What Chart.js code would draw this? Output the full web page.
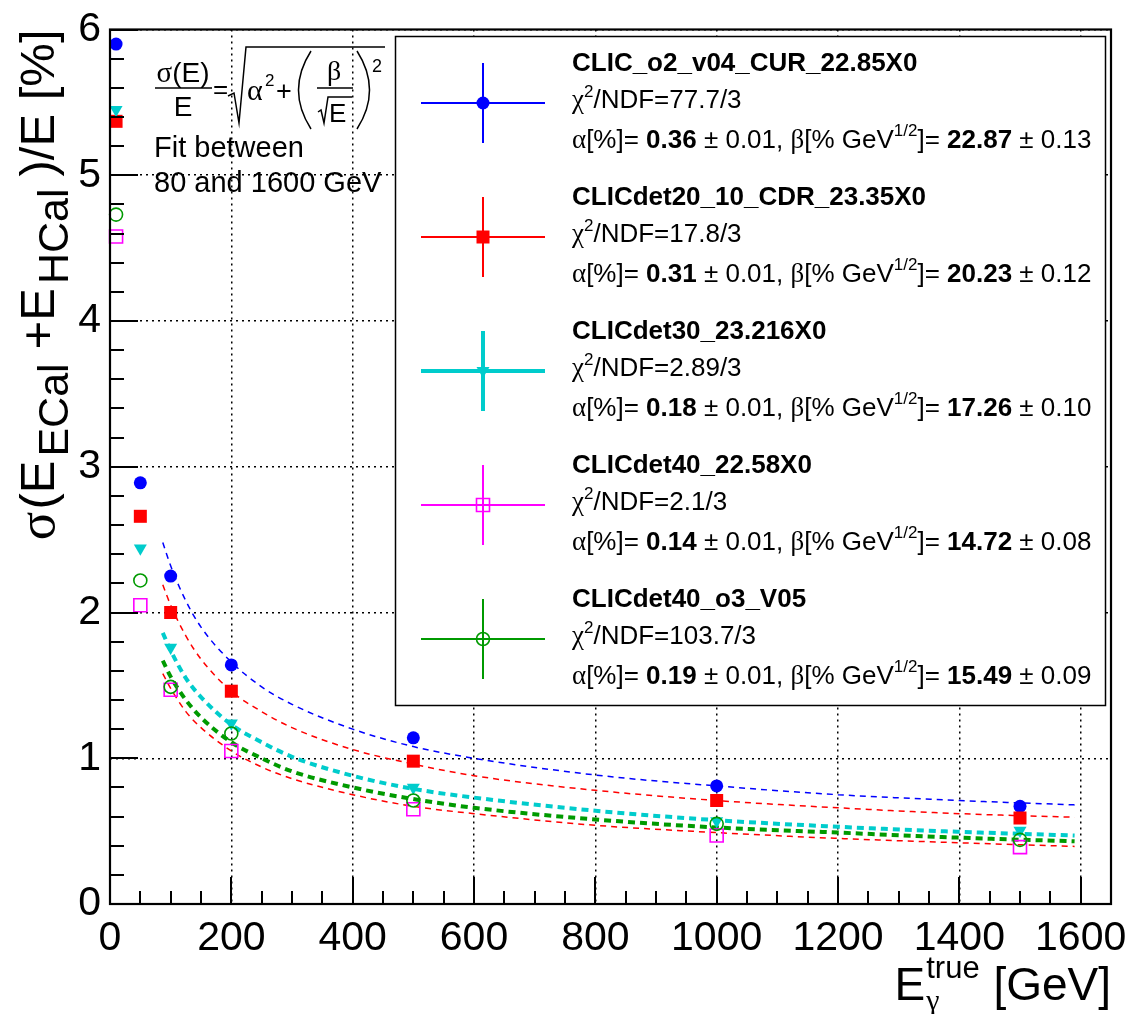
<!DOCTYPE html>
<html>
<head>
<meta charset="utf-8">
<script src="https://cdn.jsdelivr.net/npm/chart.js@4.4.1/dist/chart.umd.min.js"></script>
<style>
  html, body { margin: 0; padding: 0; background: #fff; }
  canvas { display: block; }
</style>
</head>
<body>
<canvas id="resoChart" width="1141" height="1014"></canvas>
<script>
// photon energies (GeV)
const energies = [10, 50, 100, 200, 500, 1000, 1500];

// sigma(E_ECal+E_HCal)/E in %, one array per detector model
const resoCUR = [5.90, 2.89, 2.25, 1.64, 1.14, 0.81, 0.67];
const resoCDR = [5.37, 2.66, 2.00, 1.46, 0.98, 0.71, 0.59];
const resoDet30 = [5.45, 2.44, 1.76, 1.24, 0.80, 0.57, 0.505];
const resoDet40 = [4.58, 2.05, 1.47, 1.05, 0.65, 0.47, 0.39];
const resoDet40o3 = [4.73, 2.22, 1.49, 1.17, 0.71, 0.55, 0.44];

// fitted curves (fit between 80 and 1600 GeV)
const fitEnergies = [87, 100, 125, 150, 200, 250, 300, 400, 500, 600, 800, 1000, 1200, 1400, 1590];
const fitCUR = [2.48, 2.32, 2.08, 1.90, 1.66, 1.49, 1.37, 1.20, 1.08, 1.00, 0.885, 0.81, 0.75, 0.71, 0.68];
const fitCDR = [2.19, 2.05, 1.84, 1.68, 1.46, 1.32, 1.21, 1.06, 0.96, 0.88, 0.78, 0.71, 0.66, 0.62, 0.595];
const fitDet30 = [1.86, 1.74, 1.55, 1.42, 1.23, 1.11, 1.01, 0.88, 0.79, 0.73, 0.64, 0.575, 0.53, 0.495, 0.47];
const fitDet40 = [1.58, 1.48, 1.32, 1.21, 1.05, 0.94, 0.86, 0.75, 0.67, 0.62, 0.54, 0.49, 0.45, 0.42, 0.395];
const fitDet40o3 = [1.67, 1.56, 1.40, 1.28, 1.11, 1.00, 0.91, 0.80, 0.72, 0.66, 0.58, 0.525, 0.49, 0.455, 0.43];

// axis ticks
const xTicks = [0, 200, 400, 600, 800, 1000, 1200, 1400, 1600];
const yTicks = [0, 1, 2, 3, 4, 5, 6];

// legend texts
const legendNames = ["CLIC_o2_v04_CUR_22.85X0", "CLICdet20_10_CDR_23.35X0", "CLICdet30_23.216X0", "CLICdet40_22.58X0", "CLICdet40_o3_V05"];
const legendChi2 = ["77.7/3", "17.8/3", "2.89/3", "2.1/3", "103.7/3"];
const legendAlpha = ["0.36", "0.31", "0.18", "0.14", "0.19"];
const legendAlphaErr = ["0.01", "0.01", "0.01", "0.01", "0.01"];
const legendBeta = ["22.87", "20.23", "17.26", "14.72", "15.49"];
const legendBetaErr = ["0.13", "0.12", "0.10", "0.08", "0.09"];

// styles
const SANS = "'Liberation Sans', Arial, Helvetica, sans-serif";
const SERIF = "'Liberation Serif', 'Times New Roman', serif";
const BLUE = "#0000ff", RED = "#ff0000", CYAN = "#00cccc", MAGENTA = "#ff00ff", GREEN = "#009a00";

// marker style of each graph (same order as legend)
const markers = [
    { shape: "circle", color: BLUE, fill: true, lw: 2 },
    { shape: "square", color: RED, fill: true, lw: 2 },
    { shape: "triangle", color: CYAN, fill: true, lw: 4 },
    { shape: "square", color: MAGENTA, fill: false, lw: 2 },
    { shape: "circle", color: GREEN, fill: false, lw: 2 }
];

function pts(xs, ys) {
    return xs.map((x, i) => ({ x: x, y: ys[i] }));
}

function pointSet(data, m, order) {
    const base = {
        data: pts(energies, data),
        showLine: false,
        clip: false,
        order: order,
        borderColor: m.color,
        backgroundColor: m.fill ? m.color : "rgba(0,0,0,0)",
        borderWidth: m.fill ? 0 : 1.6
    };
    if (m.shape === "circle") { base.pointStyle = "circle"; base.pointRadius = 6.5; }
    if (m.shape === "square") { base.pointStyle = "rect"; base.pointRadius = 9.2; }
    if (m.shape === "triangle") { base.pointStyle = "triangle"; base.pointRadius = 7.5; base.pointRotation = 180; }
    return base;
}

function fitSet(data, color, width, dash) {
    return {
        data: pts(fitEnergies, data),
        showLine: true,
        pointRadius: 0,
        borderColor: color,
        borderWidth: width,
        borderDash: dash,
        cubicInterpolationMode: "monotone",
        order: 10
    };
}

// draw a list of text pieces one after another
function drawRuns(ctx, runs, x, y) {
    runs.forEach(r => {
        ctx.font = r.font;
        ctx.fillText(r.t, x, y + (r.dy || 0));
        x += ctx.measureText(r.t).width + (r.gap || 0);
    });
    return x;
}
function runsWidth(ctx, runs) {
    let w = 0;
    runs.forEach(r => { ctx.font = r.font; w += ctx.measureText(r.t).width + (r.gap || 0); });
    return w;
}

function drawMarker(ctx, m, x, y) {
    ctx.save();
    ctx.fillStyle = m.color;
    ctx.strokeStyle = m.color;
    ctx.lineWidth = 1.6;
    ctx.beginPath();
    if (m.shape === "circle") ctx.arc(x, y, 6.5, 0, Math.PI * 2);
    if (m.shape === "square") ctx.rect(x - 6.5, y - 6.5, 13, 13);
    if (m.shape === "triangle") {
        ctx.moveTo(x - 6.5, y - 4);
        ctx.lineTo(x + 6.5, y - 4);
        ctx.lineTo(x, y + 7);
        ctx.closePath();
    }
    if (m.fill) ctx.fill(); else ctx.stroke();
    ctx.restore();
}

const rootDecor = {
    id: "rootDecor",
    afterDraw(chart) {
        const ctx = chart.ctx;
        const a = chart.chartArea;
        const xs = chart.scales.x, ys = chart.scales.y;
        ctx.save();
        ctx.setLineDash([]);
        ctx.fillStyle = "#000";
        ctx.strokeStyle = "#000";

        // inward ticks (ROOT style)
        for (let k = 0; k * 50 <= 1650; k++) {
            const v = k * 50;
            const px = Math.round(xs.getPixelForValue(v));
            const len = (k % 4 === 0) ? 27 : 13;
            ctx.fillRect(px - 1, a.bottom - len, 2, len);
        }
        for (let k = 0; k <= 30; k++) {
            const py = Math.round(ys.getPixelForValue(k * 0.2));
            const len = (k % 5 === 0) ? 28 : 14;
            ctx.fillRect(a.left, py - 1, len, 2);
        }
        // frame
        ctx.lineWidth = 2.2;
        ctx.strokeRect(a.left, a.top, a.right - a.left, a.bottom - a.top);

        ctx.textBaseline = "alphabetic";
        ctx.textAlign = "left";

        // y axis title
        const FM = "49px " + SANS, FS = "43px " + SANS;
        const yRuns = [
            { t: "σ", font: "53px " + SERIF, gap: 2 },
            { t: "(E", font: FM, gap: 4 },
            { t: "ECal", font: FS, dy: 14, gap: 14 },
            { t: "+E", font: FM, gap: 4 },
            { t: "HCal", font: FS, dy: 14, gap: 12 },
            { t: ")/E [%]", font: FM }
        ];
        const yw = runsWidth(ctx, yRuns);
        ctx.save();
        ctx.translate(54, a.top + yw);
        ctx.rotate(-Math.PI / 2);
        drawRuns(ctx, yRuns, 0, 0);
        ctx.restore();

        // x axis title
        ctx.font = "46px " + SANS;
        const tailW = ctx.measureText(" [GeV]").width;
        const eW = ctx.measureText("E").width;
        ctx.font = "31px " + SANS;
        const supW = ctx.measureText("true").width;
        const xt = a.right - tailW - supW - eW - 2;
        ctx.font = "46px " + SANS;
        ctx.fillText("E", xt, 1000);
        ctx.font = "30px " + SERIF;
        ctx.fillText("γ", xt + eW + 1, 1010);
        ctx.font = "31px " + SANS;
        ctx.fillText("true", xt + eW + 1, 978);
        ctx.font = "46px " + SANS;
        ctx.fillText(" [GeV]", xt + eW + supW + 2, 1000);

        // resolution formula
        ctx.lineWidth = 1.5;
        ctx.font = "29px " + SERIF;
        const sw = ctx.measureText("σ").width;
        ctx.font = "28px " + SANS;
        const pw = ctx.measureText("(E)").width;
        const fx = 183 - (sw + pw) / 2;
        ctx.font = "29px " + SERIF;
        ctx.fillText("σ", fx, 82);
        ctx.font = "28px " + SANS;
        ctx.fillText("(E)", fx + sw, 82);
        ctx.textAlign = "center";
        ctx.fillText("E", 183, 116);
        ctx.beginPath();
        ctx.moveTo(155, 88); ctx.lineTo(212, 88);
        ctx.stroke();
        ctx.textAlign = "left";
        ctx.font = "26px " + SANS;
        ctx.fillText("=", 213, 98);
        ctx.beginPath();
        ctx.moveTo(228, 96); ctx.lineTo(234, 93); ctx.lineTo(239, 123); ctx.lineTo(246, 47); ctx.lineTo(385, 47);
        ctx.stroke();
        ctx.font = "30px " + SERIF;
        ctx.fillText("α", 247, 100);
        ctx.font = "17px " + SANS;
        ctx.fillText("2", 265, 86);
        ctx.font = "27px " + SANS;
        ctx.fillText("+", 276, 100);
        ctx.beginPath();
        ctx.moveTo(311, 51); ctx.quadraticCurveTo(286, 90, 311, 129);
        ctx.moveTo(357, 51); ctx.quadraticCurveTo(382, 90, 357, 129);
        ctx.stroke();
        ctx.font = "28px " + SERIF;
        ctx.textAlign = "center";
        ctx.fillText("β", 334, 80);
        ctx.textAlign = "left";
        ctx.beginPath();
        ctx.moveTo(317, 88); ctx.lineTo(353, 88);
        ctx.moveTo(318, 112); ctx.lineTo(321, 110); ctx.lineTo(324, 123); ctx.lineTo(328, 97); ctx.lineTo(352, 97);
        ctx.stroke();
        ctx.font = "26px " + SANS;
        ctx.fillText("E", 329, 122);
        ctx.font = "18px " + SANS;
        ctx.fillText("2", 372, 72);
        ctx.font = "29px " + SANS;
        ctx.fillText("Fit between", 154, 157);
        ctx.fillText("80 and 1600 GeV", 154, 192);

        // legend
        ctx.fillStyle = "#fff";
        ctx.fillRect(395, 36, 710, 669);
        ctx.lineWidth = 1.5;
        ctx.strokeStyle = "#000";
        ctx.strokeRect(395.5, 36.5, 710, 669);
        const F = "26px " + SANS, B = "bold 26px " + SANS, G = "27px " + SERIF, S = "17px " + SANS;
        legendNames.forEach((name, i) => {
            const m = markers[i];
            const cy = 103 + 134 * i;
            const y0 = 71 + 134 * i;
            ctx.save();
            ctx.strokeStyle = m.color;
            ctx.lineWidth = m.lw;
            ctx.beginPath();
            ctx.moveTo(421, cy); ctx.lineTo(545, cy);
            ctx.moveTo(483, cy - 40); ctx.lineTo(483, cy + 40);
            ctx.stroke();
            ctx.restore();
            drawMarker(ctx, m, 483, cy);
            ctx.fillStyle = "#000";
            drawRuns(ctx, [{ t: name, font: B }], 572, y0);
            drawRuns(ctx, [
                { t: "χ", font: G },
                { t: "2", font: S, dy: -11 },
                { t: "/NDF=" + legendChi2[i], font: F }
            ], 572, y0 + 37);
            drawRuns(ctx, [
                { t: "α", font: G },
                { t: "[%]= ", font: F },
                { t: legendAlpha[i], font: B },
                { t: " ± " + legendAlphaErr[i] + ", ", font: F },
                { t: "β", font: G },
                { t: "[% GeV", font: F },
                { t: "1/2", font: S, dy: -12 },
                { t: "]= ", font: F },
                { t: legendBeta[i], font: B },
                { t: " ± " + legendBetaErr[i], font: F }
            ], 572, y0 + 77);
        });
        ctx.restore();
    }
};

const ctx = document.getElementById("resoChart").getContext("2d");
new Chart(ctx, {
    type: "scatter",
    data: {
        datasets: [
            fitSet(fitCUR, BLUE, 1.5, [6, 5]),
            fitSet(fitCDR, RED, 1.5, [6, 5]),
            fitSet(fitDet30, CYAN, 4, [7, 5]),
            fitSet(fitDet40, RED, 1.5, [6, 5]),
            fitSet(fitDet40o3, GREEN, 4, [7, 5]),
            pointSet(resoCUR, markers[0], 5),
            pointSet(resoCDR, markers[1], 4),
            pointSet(resoDet30, markers[2], 3),
            pointSet(resoDet40, markers[3], 2),
            pointSet(resoDet40o3, markers[4], 1)
        ]
    },
    options: {
        responsive: false,
        animation: false,
        devicePixelRatio: 1,
        events: [],
        layout: { padding: { top: 25, right: 24, left: 0, bottom: 0 } },
        plugins: {
            legend: { display: false },
            tooltip: { enabled: false },
            title: { display: false }
        },
        scales: {
            x: {
                type: "linear",
                min: 0,
                max: 1650,
                afterBuildTicks: s => { s.ticks = xTicks.map(v => ({ value: v })); },
                afterFit: s => { s.height = 110; },
                ticks: {
                    color: "#000",
                    font: { family: SANS, size: 41, lineHeight: 1 },
                    padding: 14,
                    maxRotation: 0,
                    autoSkip: false,
                    callback: v => String(v)
                },
                grid: { color: "#000", lineWidth: 1.5, drawTicks: false },
                border: { display: false, dash: [2, 4] }
            },
            y: {
                type: "linear",
                min: 0,
                max: 6,
                afterBuildTicks: s => { s.ticks = yTicks.map(v => ({ value: v })); },
                afterFit: s => { s.width = 110; },
                ticks: {
                    color: "#000",
                    font: { family: SANS, size: 41, lineHeight: 1 },
                    padding: 9,
                    callback: v => String(v)
                },
                grid: { color: "#000", lineWidth: 1.5, drawTicks: false },
                border: { display: false, dash: [2, 4] }
            }
        }
    },
    plugins: [rootDecor]
});
</script>
</body>
</html>
